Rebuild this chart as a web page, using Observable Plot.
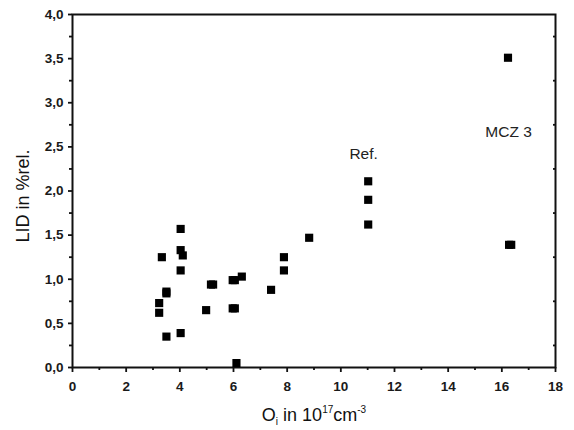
<!DOCTYPE html>
<html><head><meta charset="utf-8">
<script src="https://cdn.jsdelivr.net/npm/d3@7"></script>
<script src="https://cdn.jsdelivr.net/npm/@observablehq/plot@0.6"></script>
<style>body{margin:0;background:#fff}</style>
</head><body><div id="chart"></div>
<script>
// Oi (10^17 cm^-3) and LID (% rel.)
const oi  = [3.23, 3.23, 3.33, 3.50, 3.50, 3.50, 4.03, 4.03, 4.11, 4.03, 4.03, 4.98, 5.16, 5.24, 5.97, 6.05, 6.31, 5.97, 6.05, 6.11, 7.40, 7.88, 7.88, 8.82, 11.02, 11.02, 11.02, 16.23, 16.27, 16.35];
const lid = [0.73, 0.62, 1.25, 0.86, 0.84, 0.35, 1.57, 1.33, 1.27, 1.10, 0.39, 0.65, 0.94, 0.94, 0.99, 0.99, 1.03, 0.67, 0.67, 0.05, 0.88, 1.25, 1.10, 1.47, 2.11, 1.90, 1.62, 3.51, 1.39, 1.39];
const labelText = ["Ref.", "MCZ 3"];
const labelX = [10.85, 16.25];
const labelY = [2.42, 2.67];
const xMajor = [0, 2, 4, 6, 8, 10, 12, 14, 16, 18];
const xMinor = [1, 3, 5, 7, 9, 11, 13, 15, 17];
const yMajor = [0, 0.5, 1, 1.5, 2, 2.5, 3, 3.5, 4];
const yMinor = [0.25, 0.75, 1.25, 1.75, 2.25, 2.75, 3.25, 3.75];

const points = oi.map((x, i) => ({x, y: lid[i]}));
const notes = labelText.map((t, i) => ({t, x: labelX[i], y: labelY[i]}));
const comma = d => d3.format(".1f")(d).replace(".", ",");
const blank = () => "";

const svg = Plot.plot({
  width: 574, height: 430,
  marginLeft: 72, marginRight: 19, marginTop: 14, marginBottom: 63,
  x: {domain: [0, 18]},
  y: {domain: [0, 4]},
  style: {fontFamily: "'Liberation Sans', Arial, sans-serif", fontSize: "13px", color: "#111", background: "#fff"},
  marks: [
    Plot.frame({stroke: "#111", strokeWidth: 2}),
    Plot.axisX({ticks: xMajor, tickSize: 5, tickPadding: 9, strokeWidth: 1.8, label: null, fontSize: 13.5, fontWeight: "bold", fill: "#1a1a1a"}),
    Plot.axisX({ticks: xMinor, tickSize: 3, strokeWidth: 1.8, tickFormat: blank, label: null}),
    Plot.axisY({ticks: yMajor, tickSize: 4, tickPadding: 5, strokeWidth: 1.8, tickFormat: comma, label: null, fontSize: 13.5, fontWeight: "bold", fill: "#1a1a1a"}),
    Plot.axisY({ticks: yMinor, tickSize: 3, strokeWidth: 1.8, tickFormat: blank, label: null}),
    Plot.axisY({anchor: "right", ticks: yMinor, tickSize: 3, dx: -3, strokeWidth: 1.8, tickFormat: blank, label: null}),
    Plot.dot(points, {x: "x", y: "y", symbol: "square", r: 4.6, fill: "#000", stroke: "none"}),
    Plot.text(notes, {x: "x", y: "y", text: "t", fontSize: 15.5, fill: "#222"})
  ]
});

const s = d3.select(svg);
s.append("text")
  .attr("transform", "translate(29,196) rotate(-90)")
  .attr("text-anchor", "middle")
  .attr("font-size", 18)
  .attr("fill", "#111")
  .text("LID in %rel.");

const xl = s.append("text")
  .attr("x", 314).attr("y", 421)
  .attr("text-anchor", "middle")
  .attr("font-size", 18)
  .attr("fill", "#111");
xl.append("tspan").text("O");
xl.append("tspan").attr("font-size", 10).attr("dy", 4).text("i");
xl.append("tspan").attr("dy", -4).text(" in 10");
xl.append("tspan").attr("font-size", 10).attr("dy", -8).text("17");
xl.append("tspan").attr("dy", 8).text("cm");
xl.append("tspan").attr("font-size", 10).attr("dy", -8).text("-3");

document.getElementById("chart").appendChild(svg);
</script>
</body></html>
